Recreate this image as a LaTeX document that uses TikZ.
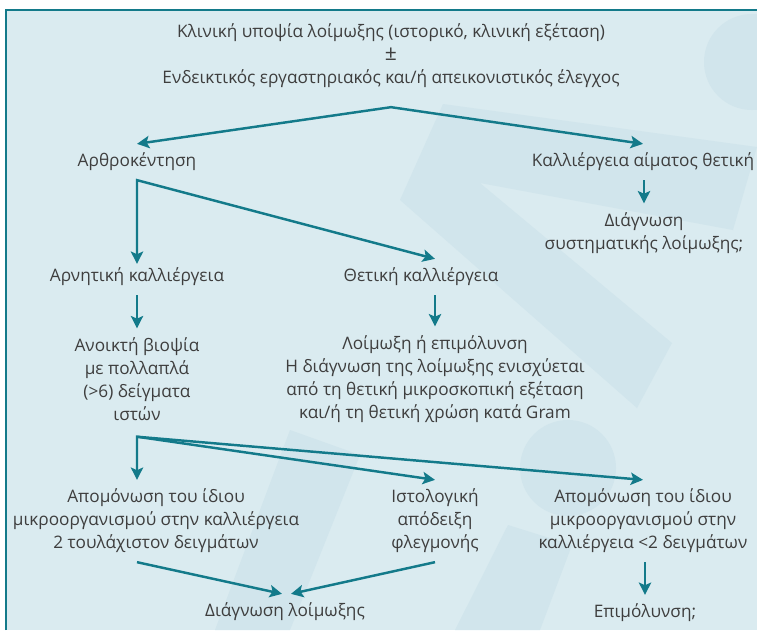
\documentclass[tikz,border=0pt]{standalone}
\usepackage{fontspec}
\setmainfont{Open Sans}
\usepackage{tikz}
\usetikzlibrary{calc, arrows.meta}
\definecolor{frameteal}{RGB}{19,122,138}
\definecolor{boxblue}{RGB}{218,235,240}
\definecolor{markblue}{RGB}{209,229,236}
\definecolor{textgray}{RGB}{62,62,62}

\begin{document}
\begin{tikzpicture}[x=0.02cm, y=-0.02cm]

        % Styles for texts and arrows
        \tikzset{flowtext/.style={text=textgray, align=center, font=\fontsize{9.8}{13.1}\selectfont, inner xsep=0pt, inner ysep=5pt}}
        \tikzset{flowarrow/.style={draw=frameteal, line width=1.4pt, -{Stealth[length=7pt, width=7pt, inset=1.5pt]}}}
        \tikzset{flowpair/.style={flowarrow, {Stealth[length=7pt, width=7pt, inset=1.5pt]}-{Stealth[length=7pt, width=7pt, inset=1.5pt]}}}
        \tikzset{watermark/.style={fill=markblue}}

        \useasboundingbox (0,0) rectangle (757,630);

        % =================================================================
        % 1. BACKGROUND, FRAME AND WATERMARK
        % =================================================================

        \fill[boxblue] (6,10) rectangle (757,630);
        \begin{scope}
            \clip (6,10) rectangle (757,630);
            \fill[watermark] (752,62) circle (48);
            \fill[watermark] (568,468) circle (48);
            \fill[watermark] (443,104) -- (757,147) -- (733,230) -- (480,183)
                -- (672,343) -- (637,408) -- (400,200) -- cycle;
            \fill[watermark] (290,430) -- (360,455) -- (290,630) -- (215,630) -- cycle;
            \fill[watermark] (508,525) -- (572,545) -- (540,630) -- (455,630) -- cycle;
        \end{scope}
        \draw[frameteal, line width=1.3pt] (6,630) -- (6,10) -- (757,10);

        % =================================================================
        % 2. TEXTS
        % =================================================================

        \node[flowtext] (suspicion) at (391,56) {Κλινική υποψία λοίμωξης (ιστορικό, κλινική εξέταση)\\ {\large ±} \\ Ενδεικτικός εργαστηριακός και/ή απεικονιστικός έλεγχος};

        \node[flowtext] (arthro) at (137,162) {Αρθροκέντηση};
        \node[flowtext] (blood) at (643,162) {Καλλιέργεια αίματος θετική};
        \node[flowtext] (systemic) at (644,233) {Διάγνωση\\συστηματικής λοίμωξης;};

        \node[flowtext] (negative) at (137,277) {Αρνητική καλλιέργεια};
        \node[flowtext] (positive) at (421,277) {Θετική καλλιέργεια};

        \node[flowtext] (biopsy) at (137,379) {Ανοικτή βιοψία\\με πολλαπλά\\(>6) δείγματα\\ιστών};
        \node[flowtext] (infection) at (435,379) {Λοίμωξη ή επιμόλυνση\\Η διάγνωση της λοίμωξης ενισχύεται\\από τη θετική μικροσκοπική εξέταση\\και/ή τη θετική χρώση κατά Gram};

        \node[flowtext] (isolation) at (156,521) {Απομόνωση του ίδιου\\μικροοργανισμού στην καλλιέργεια\\2 τουλάχιστον δειγμάτων};
        \node[flowtext] (histology) at (435,521) {Ιστολογική\\απόδειξη\\φλεγμονής};
        \node[flowtext] (fewsamples) at (643,521) {Απομόνωση του ίδιου\\μικροοργανισμού στην\\καλλιέργεια <2 δειγμάτων};

        \node[flowtext] (diagnosis) at (285,612) {Διάγνωση λοίμωξης};
        \node[flowtext] (contamination) at (645,613) {Επιμόλυνση;};

        % =================================================================
        % 3. ARROWS
        % =================================================================

        % split points below the texts
        \coordinate (topsplit) at ($(suspicion.south)+(0,10)$);
        \coordinate (biopsysplit) at ($(biopsy.south)+(0,7)$);

        \draw[flowpair] (arthro.north) -- (topsplit) -- (blood.north);
        \draw[flowarrow] (blood.south -| systemic.north) -- (systemic.north);

        \draw[flowpair] ($(negative.north)+(0,5)$) -- (arthro.south) -- (positive.north -| infection.north);
        \draw[flowarrow] (negative.south) -- (biopsy.north);
        \draw[flowarrow] (positive.south -| infection.north) -- (infection.north);

        \draw[flowpair] (isolation.north -| biopsysplit) -- (biopsysplit) -- (fewsamples.north);
        \draw[flowarrow] (biopsysplit) -- (histology.north);

        \draw[flowarrow] (isolation.south -| biopsysplit) -- ($(diagnosis.north)+(-3,0)$);
        \draw[flowarrow] (histology.south) -- ($(diagnosis.north)+(6,0)$);
        \draw[flowarrow] (fewsamples.south -| contamination.north) -- (contamination.north);

    \end{tikzpicture}
\end{document}
